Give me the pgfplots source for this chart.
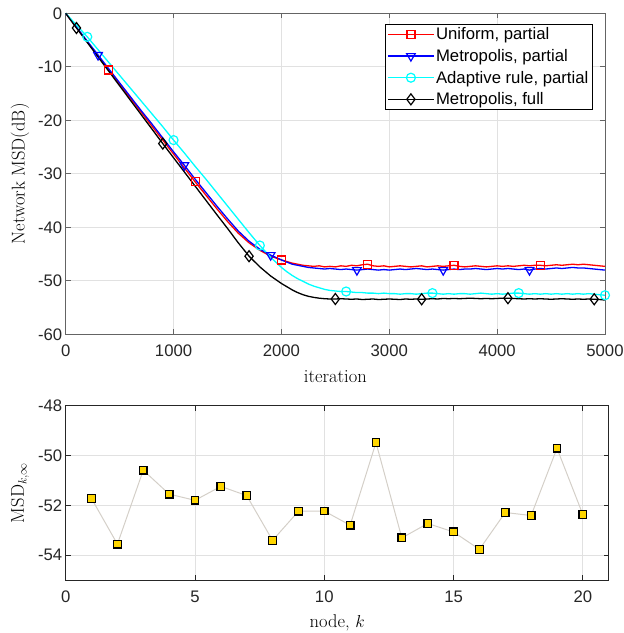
\documentclass[border=0pt]{standalone}
\usepackage{fontspec}
\usepackage{pgfplots}
\usepackage{pgfplotstable}
\pgfplotsset{compat=1.18}
\newfontfamily\arial{Liberation Sans}
\newcommand\tickfont{\fontsize{16.7}{20}\selectfont\arial}
\newcommand\labfont{\fontsize{18.5}{22}\selectfont}
\newcommand\legtxt[1]{\pgfsetfillcolor{black}\pgfsetstrokecolor{black}#1}
\definecolor{axgrayA}{RGB}{100,100,100}
\definecolor{axgrayB}{RGB}{38,38,38}
\definecolor{gridgray}{RGB}{225,225,225}
\definecolor{tickgray}{RGB}{38,38,38}
\definecolor{gold}{RGB}{255,214,0}
\definecolor{linebeige}{RGB}{212,207,200}
\definecolor{mred}{RGB}{255,0,0}
\definecolor{mblue}{RGB}{0,0,255}
\definecolor{mcyan}{RGB}{0,255,255}

\pgfplotstableread{
x y
0 0
100 -2.65
200 -5.3
300 -7.95
400 -10.6
500 -13.25
600 -15.9
700 -18.5
800 -21.1
900 -23.7
1000 -26.3
1100 -28.9
1200 -31.5
1300 -34.0
1400 -36.5
1500 -38.9
1600 -41.1
1700 -42.9
1800 -44.3
1900 -45.4
2000 -46.1
2050 -46.4
2100 -46.7
2150 -46.9
2200 -47.1
2250 -47.2
2300 -47.3
2350 -47.2
2400 -47.4
2450 -47.3
2500 -47.4
2550 -47.2
2600 -47.3
2650 -47.1
2700 -47.2
2750 -47.0
2800 -46.9
2850 -47.2
2900 -47.3
2950 -47.2
3000 -47.4
3050 -47.3
3100 -47.2
3150 -47.3
3200 -47.4
3250 -47.3
3300 -47.2
3350 -47.4
3400 -47.3
3450 -47.2
3500 -47.3
3550 -47.2
3600 -47.1
3650 -47.3
3700 -47.4
3750 -47.3
3800 -47.2
3850 -47.3
3900 -47.4
3950 -47.3
4000 -47.2
4050 -47.3
4100 -47.2
4150 -47.3
4200 -47.2
4250 -47.1
4300 -47.2
4350 -47.1
4400 -47.1
4450 -47.2
4500 -47.1
4550 -47.0
4600 -47.1
4650 -47.0
4700 -46.9
4750 -47.0
4800 -46.9
4850 -47.0
4900 -47.1
4950 -47.2
5000 -47.3
}\uniform

\pgfplotstableread{
x y
0 0
100 -2.6
200 -5.2
300 -7.8
400 -10.4
500 -13.0
600 -15.6
700 -18.2
800 -20.7
900 -23.3
1000 -25.9
1100 -28.4
1200 -31.0
1300 -33.5
1400 -36.0
1500 -38.4
1600 -40.7
1700 -42.6
1800 -44.1
1900 -45.2
2000 -46.1
2050 -46.5
2100 -46.9
2150 -47.1
2200 -47.3
2250 -47.5
2300 -47.6
2350 -47.7
2400 -47.8
2450 -47.7
2500 -47.8
2550 -47.9
2600 -47.8
2650 -47.9
2700 -48.0
2750 -47.9
2800 -47.8
2850 -47.9
2900 -48.0
2950 -47.9
3000 -48.0
3050 -47.9
3100 -47.8
3150 -47.9
3200 -47.8
3250 -47.7
3300 -47.8
3350 -47.9
3400 -47.8
3450 -47.9
3500 -48.0
3550 -47.9
3600 -47.8
3650 -47.9
3700 -47.8
3750 -47.8
3800 -47.7
3850 -47.8
3900 -47.9
3950 -47.8
4000 -47.7
4050 -47.8
4100 -47.7
4150 -47.8
4200 -47.9
4250 -47.8
4300 -48.0
4350 -47.8
4400 -47.7
4450 -47.8
4500 -47.7
4550 -47.6
4600 -47.7
4650 -47.6
4700 -47.5
4750 -47.6
4800 -47.6
4850 -47.7
4900 -47.8
4950 -47.9
5000 -48.0
}\metpartial

\pgfplotstableread{
x y
0 0
100 -2.2
200 -4.4
300 -6.8
400 -9.2
500 -11.6
600 -14.0
700 -16.4
800 -18.8
900 -21.2
1000 -23.7
1100 -26.1
1200 -28.6
1300 -31.0
1400 -33.5
1500 -36.0
1600 -38.5
1700 -41.0
1800 -43.4
1900 -45.6
2000 -47.5
2050 -48.3
2100 -49.0
2150 -49.6
2200 -50.1
2250 -50.6
2300 -51.0
2350 -51.3
2400 -51.6
2450 -51.8
2500 -51.9
2550 -52.0
2600 -52.0
2650 -52.1
2700 -52.2
2750 -52.2
2800 -52.3
2850 -52.3
2900 -52.4
2950 -52.3
3000 -52.4
3050 -52.4
3100 -52.5
3150 -52.4
3200 -52.4
3250 -52.5
3300 -52.4
3350 -52.3
3400 -52.3
3450 -52.4
3500 -52.5
3550 -52.4
3600 -52.5
3650 -52.4
3700 -52.4
3750 -52.5
3800 -52.4
3850 -52.3
3900 -52.4
3950 -52.5
4000 -52.4
4050 -52.5
4100 -52.4
4150 -52.3
4200 -52.3
4250 -52.4
4300 -52.5
4350 -52.4
4400 -52.5
4450 -52.4
4500 -52.5
4550 -52.4
4600 -52.5
4650 -52.4
4700 -52.5
4750 -52.4
4800 -52.5
4850 -52.4
4900 -52.5
4950 -52.6
5000 -52.7
}\adaptive

\pgfplotstableread{
x y
0 0
100 -2.75
200 -5.45
300 -8.15
400 -10.85
500 -13.55
600 -16.25
700 -18.95
800 -21.65
900 -24.35
1000 -27.0
1100 -29.65
1200 -32.3
1300 -34.95
1400 -37.6
1500 -40.2
1600 -42.9
1700 -45.4
1800 -47.4
1900 -49.1
2000 -50.5
2050 -51.1
2100 -51.7
2150 -52.2
2200 -52.6
2250 -52.9
2300 -53.1
2350 -53.25
2400 -53.35
2450 -53.4
2500 -53.4
2550 -53.35
2600 -53.4
2650 -53.45
2700 -53.4
2750 -53.5
2800 -53.45
2850 -53.4
2900 -53.5
2950 -53.45
3000 -53.4
3050 -53.45
3100 -53.5
3150 -53.4
3200 -53.45
3250 -53.4
3300 -53.45
3350 -53.4
3400 -53.35
3450 -53.4
3500 -53.3
3550 -53.35
3600 -53.3
3650 -53.35
3700 -53.3
3750 -53.25
3800 -53.3
3850 -53.35
3900 -53.3
3950 -53.35
4000 -53.3
4050 -53.25
4100 -53.25
4150 -53.3
4200 -53.35
4250 -53.4
4300 -53.35
4350 -53.4
4400 -53.35
4450 -53.4
4500 -53.45
4550 -53.4
4600 -53.35
4650 -53.4
4700 -53.45
4750 -53.4
4800 -53.45
4850 -53.4
4900 -53.45
4950 -53.5
5000 -53.6
}\metfull

\pgfplotstableread{
k msd
1 -51.73
2 -53.56
3 -50.59
4 -51.55
5 -51.80
6 -51.24
7 -51.61
8 -53.41
9 -52.24
10 -52.23
11 -52.80
12 -49.48
13 -53.31
14 -52.73
15 -53.07
16 -53.77
17 -52.29
18 -52.41
19 -49.71
20 -52.37
}\nodes

\pgfplotsset{
  mybase/.style={
    scale only axis,
    grid=major,
    grid style={draw=gridgray, line width=0.7pt},
    tick align=inside,
    major tick length=5pt,
    tick label style={font=\tickfont, text=tickgray},
    xticklabel style={yshift=-7pt},
    /pgf/number format/assume math mode=true,
    /pgf/number format/1000 sep={},
    scaled ticks=false,
    label style={font=\labfont},
    clip=false,
  },
  legimg/.style={legend image code/.code={
    \draw[line width=1.3pt, mark indices={2}] plot coordinates {(0pt,0pt) (23pt,0pt) (46pt,0pt)};}},
}

\begin{document}
\begin{tikzpicture}
\useasboundingbox (0,0) rectangle (624pt,-633pt);
\begin{axis}[
  mybase,
  at={(65.7pt,-13.3pt)}, anchor=north west,
  width=539.3pt, height=321pt,
  axis line style={draw=axgrayA, line width=0.7pt},
  tick style={draw=axgrayA, line width=0.7pt},
  xmin=0, xmax=5000, ymin=-60, ymax=0,
  xtick={0,1000,2000,3000,4000,5000},
  ytick={-60,-50,-40,-30,-20,-10,0},
  xlabel={iteration},
  ylabel={Network MSD(dB)},
  xlabel style={at={(axis description cs:0.5,-0.1308)}, anchor=center},
  ylabel style={at={(axis description cs:-0.0847,0.5)}, anchor=center},
  legend style={at={(rel axis cs:1,1)}, xshift=-13pt, yshift=-10.7pt, anchor=north east,
    draw=black, fill=white, font=\tickfont, inner xsep=2pt, inner ysep=1.5pt,
    row sep=4pt, nodes={inner xsep=1.5pt, inner ysep=2pt, text=black}},
  legend cell align=left,
]
\addplot[mred, line width=1.3pt, mark=square, mark size=4pt, mark options={solid, line width=1.2pt},
  mark indices={5,13,21,37,53,69}, legimg] table[x=x,y=y] {\uniform};
\addlegendentry{\legtxt{Uniform, partial}}
\addplot[mblue, line width=1.3pt, mark=triangle, mark size=5pt, mark options={solid, line width=1.2pt, rotate=180},
  mark indices={4,12,20,35,51,67}, legimg] table[x=x,y=y] {\metpartial};
\addlegendentry{\legtxt{Metropolis, partial}}
\addplot[mcyan, line width=1.3pt, mark=o, mark size=4.5pt, mark options={solid, line width=1.2pt},
  mark indices={3,11,19,33,49,65,81}, legimg] table[x=x,y=y] {\adaptive};
\addlegendentry{\legtxt{Adaptive rule, partial}}
\addplot[black, line width=1.3pt, mark=diamond, mark size=5.5pt, mark options={solid, line width=1.2pt},
  mark indices={2,10,18,31,47,63,79}, legimg] table[x=x,y=y] {\metfull};
\addlegendentry{\legtxt{Metropolis, full}}
\end{axis}

\begin{axis}[
  mybase,
  at={(65.7pt,-405.7pt)}, anchor=north west,
  width=543pt, height=174.3pt,
  axis line style={draw=axgrayB, line width=0.8pt},
  tick style={draw=axgrayB, line width=0.8pt},
  xmin=0, xmax=21, ymin=-55, ymax=-48,
  xtick={0,5,10,15,20},
  ytick={-54,-52,-50,-48},
  xlabel={node, $k$},
  ylabel={$\mathrm{MSD}_{k,\infty}$},
  xlabel style={at={(axis description cs:0.5,-0.245)}, anchor=center},
  ylabel style={at={(axis description cs:-0.0842,0.5)}, anchor=center},
]
\addplot[linebeige, line width=1pt, mark=square*, mark size=3.8pt,
  mark options={fill=gold, draw=black, line width=1.3pt}] table[x=k,y=msd] {\nodes};
\end{axis}
\end{tikzpicture}
\end{document}
